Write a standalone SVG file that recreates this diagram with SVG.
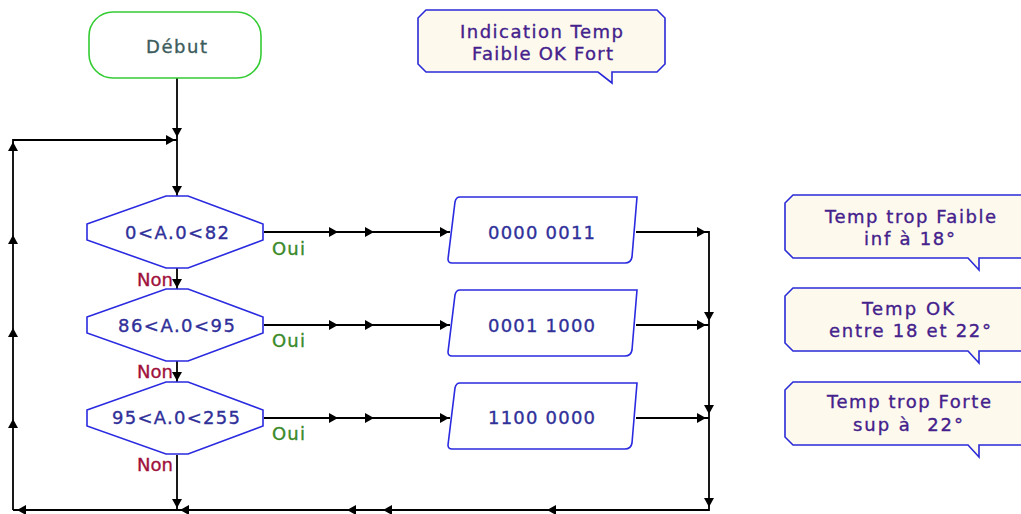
<svg xmlns="http://www.w3.org/2000/svg" xmlns:xlink="http://www.w3.org/1999/xlink" width="1021" height="514" viewBox="0 0 1021 514">
  <style>
    text { font-family: "DejaVu Sans", Verdana, "Liberation Sans", sans-serif; font-size: 18px; stroke-width: 0.35; }
    .lbl { text-anchor: middle; fill: #30309a; stroke: #30309a; }
    .note { text-anchor: middle; fill: #44218c; stroke: #44218c; }
    .go { fill: #3d5c5c; stroke: #3d5c5c; }
    .start { fill: #ffffff; stroke: #33cc33; stroke-width: 1.6; }
    .shape { fill: #ffffff; stroke: #2a2ae0; stroke-width: 1.6; }
    .bubble { fill: #fdf9ec; stroke: #2a2ad8; stroke-width: 1.6; }
    .wire { fill: none; stroke: #000000; stroke-width: 1.8; }
    .oui { fill: #3a8a2a; stroke: #3a8a2a; }
    .non { fill: #a0103c; stroke: #a0103c; }
  </style>
  <defs>
    <!-- arrowhead pointing right, tip at origin -->
    <path id="ah" d="M0,0 L-9,-5 L-9,5 Z" fill="#000000"/>
    <!-- decision hexagon centred on origin -->
    <path id="dec" d="M-90,-8 L-11,-36 L11,-36 L86,-8 L86,8 L11,36 L-11,36 L-90,8 Z"/>
    <!-- output block, origin at its top-left -->
    <path id="io" d="M12,0 L189,0 L184,60 Q183,66 177,66 L4,66 Q0,66 0,62 L7,5 Q8,0 12,0 Z"/>
    <!-- note balloon, origin at its top-left, right edge runs off the page -->
    <path id="note" d="M8,0 L250,0 L250,63 L194,63 L194,75 L183,63 L8,63 L0,55 L0,8 Z"/>
  </defs>

  <!-- connectors -->
  <g id="connectors">
    <path class="wire" d="M177,78 L177,196"/>
    <path class="wire" d="M13,510 L13,140 L177,140"/>
    <path class="wire" d="M177,268 L177,289"/>
    <path class="wire" d="M177,361 L177,382"/>
    <path class="wire" d="M177,455 L177,510"/>
    <path class="wire" d="M264,232 L450,232"/>
    <path class="wire" d="M264,325 L450,325"/>
    <path class="wire" d="M264,418 L450,418"/>
    <path class="wire" d="M636,232 L709,232 L709,510 L13,510"/>
    <path class="wire" d="M636,325 L709,325"/>
    <path class="wire" d="M636,418 L709,418"/>

    <!-- down -->
    <use xlink:href="#ah" transform="translate(177,137) rotate(90)"/>
    <use xlink:href="#ah" transform="translate(177,195) rotate(90)"/>
    <use xlink:href="#ah" transform="translate(177,288) rotate(90)"/>
    <use xlink:href="#ah" transform="translate(177,381) rotate(90)"/>
    <use xlink:href="#ah" transform="translate(177,508) rotate(90)"/>
    <use xlink:href="#ah" transform="translate(709,321) rotate(90)"/>
    <use xlink:href="#ah" transform="translate(709,414) rotate(90)"/>
    <use xlink:href="#ah" transform="translate(709,507) rotate(90)"/>
    <!-- right -->
    <use xlink:href="#ah" transform="translate(175,140)"/>
    <use xlink:href="#ah" transform="translate(338,232)"/>
    <use xlink:href="#ah" transform="translate(374,232)"/>
    <use xlink:href="#ah" transform="translate(449,232)"/>
    <use xlink:href="#ah" transform="translate(338,325)"/>
    <use xlink:href="#ah" transform="translate(374,325)"/>
    <use xlink:href="#ah" transform="translate(449,325)"/>
    <use xlink:href="#ah" transform="translate(338,418)"/>
    <use xlink:href="#ah" transform="translate(374,418)"/>
    <use xlink:href="#ah" transform="translate(449,418)"/>
    <use xlink:href="#ah" transform="translate(706,232)"/>
    <use xlink:href="#ah" transform="translate(706,325)"/>
    <use xlink:href="#ah" transform="translate(706,418)"/>
    <!-- up -->
    <use xlink:href="#ah" transform="translate(13,142) rotate(-90)"/>
    <use xlink:href="#ah" transform="translate(13,235) rotate(-90)"/>
    <use xlink:href="#ah" transform="translate(13,328) rotate(-90)"/>
    <use xlink:href="#ah" transform="translate(13,419) rotate(-90)"/>
    <!-- left -->
    <use xlink:href="#ah" transform="translate(17,510) rotate(180)"/>
    <use xlink:href="#ah" transform="translate(180,510) rotate(180)"/>
    <use xlink:href="#ah" transform="translate(347,510) rotate(180)"/>
    <use xlink:href="#ah" transform="translate(383,510) rotate(180)"/>
    <use xlink:href="#ah" transform="translate(547,510) rotate(180)"/>
  </g>

  <!-- start -->
  <g id="debut">
    <rect class="start" x="89" y="12" width="172" height="66" rx="24" ry="24"/>
    <text class="go" x="176.5" y="53" text-anchor="middle" textLength="61" lengthAdjust="spacing">Début</text>
  </g>

  <!-- heading note -->
  <g id="note-title">
    <path class="bubble" d="M426,10 L657,10 L665,18 L665,64 L657,72 L612,72 L612,83 L598,72 L426,72 L418,64 L418,18 Z"/>
    <text class="note" x="541.5" y="38" textLength="163" lengthAdjust="spacing">Indication Temp</text>
    <text class="note" x="542.5" y="60" textLength="141" lengthAdjust="spacing">Faible OK Fort</text>
  </g>

  <!-- decisions -->
  <g id="test1">
    <use xlink:href="#dec" class="shape" x="177" y="232"/>
    <text class="lbl" x="177" y="239" textLength="104" lengthAdjust="spacing">0&lt;A.0&lt;82</text>
    <text class="oui" x="272" y="255" textLength="33" lengthAdjust="spacing">Oui</text>
    <text class="non" x="137" y="286" textLength="36" lengthAdjust="spacing">Non</text>
  </g>
  <g id="test2">
    <use xlink:href="#dec" class="shape" x="177" y="325"/>
    <text class="lbl" x="176.5" y="332" textLength="117" lengthAdjust="spacing">86&lt;A.0&lt;95</text>
    <text class="oui" x="272" y="347" textLength="33" lengthAdjust="spacing">Oui</text>
    <text class="non" x="137" y="378" textLength="36" lengthAdjust="spacing">Non</text>
  </g>
  <g id="test3">
    <use xlink:href="#dec" class="shape" x="177" y="418"/>
    <text class="lbl" x="176" y="424" textLength="128" lengthAdjust="spacing">95&lt;A.0&lt;255</text>
    <text class="oui" x="272" y="440" textLength="33" lengthAdjust="spacing">Oui</text>
    <text class="non" x="137" y="471" textLength="36" lengthAdjust="spacing">Non</text>
  </g>

  <!-- outputs -->
  <g id="out1">
    <use xlink:href="#io" class="shape" x="448" y="197"/>
    <text class="lbl" x="541.5" y="239" textLength="107" lengthAdjust="spacing">0000 0011</text>
  </g>
  <g id="out2">
    <use xlink:href="#io" class="shape" x="448" y="290"/>
    <text class="lbl" x="541.5" y="332" textLength="107" lengthAdjust="spacing">0001 1000</text>
  </g>
  <g id="out3">
    <use xlink:href="#io" class="shape" x="448" y="383"/>
    <text class="lbl" x="541.5" y="424" textLength="107" lengthAdjust="spacing">1100 0000</text>
  </g>

  <!-- side notes -->
  <g id="note-faible">
    <use xlink:href="#note" class="bubble" x="785" y="195"/>
    <text class="note" x="910.5" y="223" textLength="171" lengthAdjust="spacing">Temp trop Faible</text>
    <text class="note" x="909.5" y="245" textLength="91" lengthAdjust="spacing">inf à 18°</text>
  </g>
  <g id="note-ok">
    <use xlink:href="#note" class="bubble" x="785" y="288"/>
    <text class="note" x="908" y="315" textLength="92" lengthAdjust="spacing">Temp OK</text>
    <text class="note" x="910" y="337" textLength="162" lengthAdjust="spacing">entre 18 et 22°</text>
  </g>
  <g id="note-forte">
    <use xlink:href="#note" class="bubble" x="785" y="382"/>
    <text class="note" x="909" y="408" textLength="164" lengthAdjust="spacing">Temp trop Forte</text>
    <text class="note" x="908" y="431" textLength="110" lengthAdjust="spacing">sup à&#160; 22°</text>
  </g>
</svg>
